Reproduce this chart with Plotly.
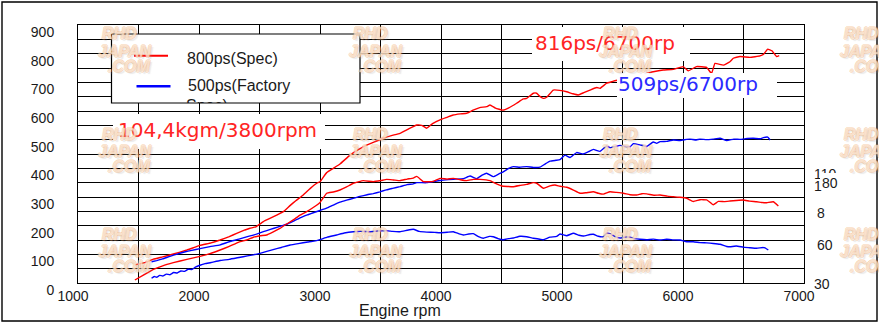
import plotly.graph_objects as go

# ---------------- data ----------------
series_names = ["800ps(Spec)", "500ps(Factory", "Spec)"]

# 800ps spec: power (ps) and torque (kgm) against engine speed (rpm)
red_power_rpm = [1470, 1560, 1623, 1700, 1788, 1900, 2008, 2100, 2174, 2250, 2311, 2380, 2421, 2470,
                 2532, 2590, 2642, 2700, 2752, 2800, 2862, 2920, 2973, 3000, 3055, 3110, 3165, 3248,
                 3320, 3386, 3450, 3523, 3590, 3661, 3730, 3799, 3840, 3882, 3930, 3992, 4050, 4100,
                 4160, 4212, 4265, 4320, 4377, 4405, 4450, 4512, 4560, 4625, 4680, 4708, 4763, 4791,
                 4820, 4846, 4873, 4928, 4980, 5039, 5090, 5135, 5180, 5231, 5287, 5314, 5369, 5410,
                 5460, 5520, 5580, 5640, 5700, 5754, 5837, 5920, 6002, 6044, 6112, 6195, 6236, 6264,
                 6333, 6388, 6416, 6471, 6553, 6636, 6670, 6700, 6735, 6774, 6795]
red_power_ps = [63, 72, 83, 91, 101, 115, 131, 140, 150, 162, 173, 185, 191, 196,
                214, 226, 237, 250, 270, 287, 307, 330, 348, 353, 385, 400, 415, 446,
                466, 481, 492, 505, 514, 522, 537, 551, 550, 540, 556, 569, 578, 586,
                590, 592, 603, 612, 615, 621, 610, 603, 611, 627, 642, 644, 662, 662,
                650, 644, 648, 673, 672, 667, 660, 656, 664, 673, 682, 679, 697, 702,
                708, 712, 718, 725, 731, 737, 743, 745, 755, 740, 755, 752, 731, 766,
                760, 772, 784, 790, 787, 792, 800, 816, 810, 790, 793]

red_torque_rpm = [1470, 1540, 1623, 1700, 1788, 1900, 2008, 2090, 2174, 2250, 2330, 2394, 2449, 2504,
                  2559, 2610, 2669, 2720, 2779, 2835, 2890, 2950, 3000, 3055, 3110, 3165, 3220, 3275,
                  3358, 3440, 3504, 3551, 3606, 3661, 3720, 3771, 3800, 3854, 3937, 3992, 4050, 4102,
                  4160, 4212, 4267, 4322, 4405, 4450, 4501, 4598, 4650, 4708, 4763, 4791, 4846, 4900,
                  4942, 4983, 5039, 5090, 5149, 5200, 5259, 5300, 5342, 5397, 5450, 5507, 5562, 5617,
                  5660, 5700, 5760, 5810, 5870, 5920, 5975, 6030, 6085, 6140, 6196, 6250, 6292, 6340,
                  6388, 6440, 6498, 6550, 6609, 6650, 6691, 6746, 6788]
red_torque_kgm = [32.1, 35.5, 39.5, 42.0, 44.2, 46.5, 48.6, 50.5, 53.0, 55.5, 58.5, 60.0, 61.9, 63.0,
                  63.5, 65.5, 68.1, 71.0, 74.0, 77.4, 79.8, 83.0, 86.2, 92.6, 93.5, 94.9, 97.0, 99.6,
                  101.4, 100.7, 101.5, 102.3, 101.9, 101.4, 102.5, 103.2, 104.4, 100.7, 100.9, 103.0, 102.5, 103.0,
                  102.0, 101.4, 102.3, 102.3, 101.4, 99.5, 97.7, 97.2, 98.0, 98.8, 100.0, 99.6, 96.1, 97.8,
                  98.4, 97.5, 96.8, 95.0, 92.6, 93.0, 93.7, 92.6, 92.0, 93.7, 93.2, 92.6, 91.6, 91.4,
                  92.3, 92.2, 91.2, 91.4, 90.6, 90.2, 89.8, 89.1, 86.9, 88.1, 88.0, 84.6, 86.9, 86.8,
                  87.2, 87.6, 87.9, 87.1, 86.7, 86.2, 86.0, 86.7, 83.7]

# 500ps factory spec
blue_power_rpm = [1608, 1650, 1700, 1760, 1820, 1880, 1940, 2008, 2090, 2174, 2250, 2330, 2400, 2449,
                  2504, 2560, 2620, 2680, 2725, 2790, 2850, 2900, 2950, 3000, 3055, 3110, 3165, 3220,
                  3275, 3330, 3390, 3440, 3496, 3550, 3600, 3661, 3720, 3771, 3799, 3882, 3964, 4020,
                  4102, 4185, 4240, 4295, 4340, 4377, 4432, 4475, 4515, 4560, 4598, 4650, 4708, 4763,
                  4818, 4860, 4901, 4950, 4983, 5025, 5066, 5121, 5176, 5220, 5259, 5314, 5369, 5397,
                  5440, 5480, 5534, 5562, 5590, 5645, 5700, 5754, 5782, 5810, 5865, 5920, 5975, 6030,
                  6058, 6110, 6140, 6195, 6250, 6306, 6361, 6420, 6471, 6530, 6581, 6640, 6664, 6700, 6720]
blue_power_ps = [74, 78, 84, 93, 101, 108, 114, 120, 127, 133, 144, 153, 162, 167,
                 175, 183, 191, 199, 205, 218, 230, 238, 246, 253, 261, 272, 282, 289,
                 295, 302, 308, 312, 318, 325, 330, 336, 343, 346, 350, 350, 356, 359,
                 362, 364, 373, 364, 376, 383, 371, 380, 388, 400, 406, 404, 406, 403,
                 404, 415, 425, 428, 430, 446, 438, 455, 450, 458, 466, 459, 478, 472,
                 476, 480, 476, 475, 486, 482, 476, 492, 487, 493, 494, 499, 497, 501,
                 502, 499, 502, 500, 502, 505, 497, 502, 501, 504, 505, 503, 507, 509, 499]

blue_torque_rpm = [1608, 1630, 1650, 1675, 1700, 1730, 1760, 1790, 1820, 1850, 1880, 1910, 1940, 1970,
                   2008, 2050, 2100, 2174, 2250, 2330, 2400, 2449, 2504, 2560, 2620, 2680, 2752, 2820,
                   2900, 2950, 3000, 3060, 3137, 3200, 3275, 3340, 3413, 3480, 3551, 3600, 3661, 3720,
                   3771, 3820, 3882, 3950, 3992, 4050, 4102, 4150, 4185, 4230, 4267, 4310, 4350, 4400,
                   4432, 4470, 4515, 4560, 4598, 4653, 4708, 4763, 4818, 4846, 4901, 4956, 4983, 5039,
                   5094, 5140, 5176, 5230, 5259, 5300, 5342, 5369, 5397, 5440, 5480, 5520, 5562, 5600,
                   5645, 5700, 5755, 5810, 5865, 5920, 5975, 6030, 6085, 6140, 6196, 6250, 6306, 6361,
                   6388, 6440, 6498, 6550, 6609, 6664, 6678, 6705]
blue_torque_kgm = [33.3, 34.5, 34.0, 35.3, 34.9, 36.2, 35.8, 37.3, 37.0, 38.4, 38.1, 39.6, 39.4, 41.0,
                   42.4, 43.5, 44.3, 45.7, 46.5, 47.8, 48.9, 49.6, 50.7, 52.1, 53.5, 54.8, 56.5, 57.5,
                   58.6, 59.2, 60.3, 62.0, 63.5, 64.9, 65.8, 66.0, 65.8, 66.3, 66.5, 66.0, 65.8, 66.8,
                   67.5, 66.0, 65.5, 65.3, 65.1, 65.4, 65.8, 64.3, 63.5, 64.2, 64.4, 62.4, 61.2, 62.5,
                   62.3, 61.0, 60.2, 61.0, 61.4, 62.6, 62.3, 61.2, 60.5, 60.2, 62.0, 62.5, 64.2, 63.0,
                   64.7, 63.3, 62.8, 63.8, 64.0, 62.6, 62.3, 64.7, 64.5, 62.4, 61.4, 62.0, 62.0, 61.0,
                   60.5, 60.2, 60.6, 60.0, 60.5, 60.1, 60.0, 58.8, 58.8, 58.2, 58.0, 57.6, 57.0, 55.5,
                   55.3, 55.8, 55.0, 54.6, 54.2, 54.8, 54.5, 53.0]

# axis ticks
rpm_ticks = list(range(1000, 7001, 500))
rpm_tick_text = [str(v) if v % 1000 == 0 else "" for v in rpm_ticks]
ps_ticks = list(range(0, 901, 50))
ps_tick_text = [str(v) if v % 100 == 0 else "" for v in ps_ticks]
torque_range = [30, 210]
torque_axis_text = ["110", "1", "80", "8", "60", "30"]

peak_labels = ["104,4kgm/3800rpm", "816ps/6700rp", "509ps/6700rp"]
x_title = "Engine rpm"
watermark_lines = ["RHD", "JAPAN", ".COM"]

RED = "#ff0000"
BLUE = "#0000ff"
TEXT = "#1a1a1a"
FONT = "Liberation Sans, Arial, sans-serif"
LABEL_FONT = "DejaVu Sans, sans-serif"

# ---------------- page geometry ----------------
W, H = 879, 323
ML, MR, MT, MB = 78, 75, 25, 40
PW, PH = W - ML - MR, H - MT - MB


def px(x):
    return (x - ML) / PW


def py(y):
    return (H - MB - y) / PH


fig = go.Figure()

curves = [
    (red_power_rpm, red_power_ps, RED, "y"),
    (red_torque_rpm, red_torque_kgm, RED, "y2"),
    (blue_power_rpm, blue_power_ps, BLUE, "y"),
    (blue_torque_rpm, blue_torque_kgm, BLUE, "y2"),
]
for xs, ys, col, ax in curves:
    fig.add_trace(go.Scatter(x=xs, y=ys, mode="lines", yaxis=ax,
                             line=dict(color=col, width=1.4, shape="spline", smoothing=0.3),
                             showlegend=False, hoverinfo="skip"))


def rect(l, r, t, b, fill="white", line=None):
    return dict(type="rect", xref="paper", yref="paper", x0=px(l), x1=px(r), y0=py(b), y1=py(t),
                line=line or dict(width=0), fillcolor=fill, layer="above")


shapes = [
    # white panels behind the peak labels
    rect(113, 325, 114, 149),
    rect(532, 690, 27, 61),
    rect(617, 777, 73, 98),
    # legend box
    rect(111.5, 360, 34, 103, line=dict(color="black", width=1.2)),
    dict(type="line", xref="paper", yref="paper", x0=px(134), x1=px(168), y0=py(55.7), y1=py(55.7),
         line=dict(color=RED, width=2), layer="above"),
    dict(type="line", xref="paper", yref="paper", x0=px(136.5), x1=px(170.5), y0=py(86.3), y1=py(86.3),
         line=dict(color=BLUE, width=2.5), layer="above"),
    # outer frame
    rect(2, 877, 2, 321, fill="rgba(0,0,0,0)", line=dict(color="black", width=1.4)),
]

ann = []
# legend texts
ann.append(dict(text=series_names[0], xref="paper", yref="paper", x=px(185), y=py(58.5),
                xanchor="left", yanchor="middle", showarrow=False,
                font=dict(family=FONT, size=16, color=TEXT)))
ann.append(dict(text=series_names[1], xref="paper", yref="paper", x=px(186), y=py(85.5),
                xanchor="left", yanchor="middle", showarrow=False,
                font=dict(family=FONT, size=16, color=TEXT)))
ann.append(dict(text=series_names[2], xref="paper", yref="paper", x=px(186), y=py(97),
                xanchor="left", yanchor="top", showarrow=False, height=6, valign="top",
                borderpad=0, borderwidth=0,
                font=dict(family=FONT, size=16, color=TEXT)))

# peak labels (text left edge, cap-height centre)
label_pos = [(118, 129.5, "#ff2424"), (535, 42.5, "#ff2424"), (618, 84, "#2a2aff")]
for text, (xl, yc, col) in zip(peak_labels, label_pos):
    ann.append(dict(text=text, xref="paper", yref="paper", x=px(xl), y=py(yc),
                    xanchor="left", yanchor="middle", showarrow=False, borderpad=0, borderwidth=0,
                    font=dict(family=LABEL_FONT, size=20, color=col)))

# right-hand torque scale labels
ann.append(dict(text=torque_axis_text[0], xref="paper", yref="paper", x=px(812), y=py(173.5),
                xanchor="left", yanchor="middle", showarrow=False,
                font=dict(family=FONT, size=14, color=TEXT)))
ann.append(dict(text=torque_axis_text[2], xref="paper", yref="paper", x=px(820), y=py(183.3),
                xanchor="left", yanchor="middle", showarrow=False, bgcolor="white", borderpad=2,
                borderwidth=0, font=dict(family=FONT, size=14, color=TEXT)))
ann.append(dict(text=torque_axis_text[1], xref="paper", yref="paper", x=px(812), y=py(186),
                xanchor="left", yanchor="middle", showarrow=False,
                font=dict(family=FONT, size=14, color=TEXT)))
for text, xl, yc in [(torque_axis_text[3], 815, 213), (torque_axis_text[4], 815, 245),
                     (torque_axis_text[5], 812, 284)]:
    ann.append(dict(text=text, xref="paper", yref="paper", x=px(xl), y=py(yc),
                    xanchor="left", yanchor="middle", showarrow=False,
                    font=dict(family=FONT, size=14, color=TEXT)))

# x-axis title
ann.append(dict(text=x_title, xref="paper", yref="paper", x=px(399.5), y=py(310.5),
                xanchor="center", yanchor="middle", showarrow=False,
                font=dict(family=FONT, size=16, color=TEXT)))

# watermark tiles: three stacked words per tile
wm_font = dict(family=FONT, size=16, weight="bold", style="italic",
               color="rgba(255,255,255,0.55)",
               shadow=("1px 0 0 rgba(240,160,90,0.55), -1px 0 0 rgba(240,160,90,0.55), "
                       "0 1px 0 rgba(240,160,90,0.55), 0 -1px 0 rgba(240,160,90,0.55), "
                       "2px 2px 1px rgba(150,150,150,0.35)"))
for cx in (124, 375, 625, 866):
    for cy in (49, 149, 249):
        for word, dx, dy in zip(watermark_lines, (-5, 0, 5), (-15, 2.5, 17.5)):
            ann.append(dict(text=word, xref="paper", yref="paper", x=px(cx + dx), y=py(cy + dy),
                            xanchor="center", yanchor="middle", showarrow=False,
                            font=wm_font))

axis_common = dict(showgrid=True, gridcolor="black", gridwidth=1, showline=True, mirror=True,
                   linecolor="black", linewidth=1, ticks="", zeroline=False,
                   tickfont=dict(family=FONT, size=14, color=TEXT))

fig.update_layout(
    width=W, height=H,
    margin=dict(l=ML, r=MR, t=MT, b=MB, pad=0),
    paper_bgcolor="white", plot_bgcolor="white",
    font=dict(family=FONT),
    xaxis=dict(range=[1000, 7000], tickmode="array", tickvals=rpm_ticks, ticktext=rpm_tick_text,
               ticklabelshift=-5, ticklabelstandoff=0, **axis_common),
    yaxis=dict(range=[0, 900], tickmode="array", tickvals=ps_ticks, ticktext=ps_tick_text,
               ticklabelshift=7, ticklabelstandoff=20, **axis_common),
    yaxis2=dict(range=torque_range, overlaying="y", side="right", showgrid=False,
                showticklabels=False, zeroline=False, showline=False, ticks=""),
    shapes=shapes,
    annotations=ann,
    showlegend=False,
)

fig.write_html("out.html")
